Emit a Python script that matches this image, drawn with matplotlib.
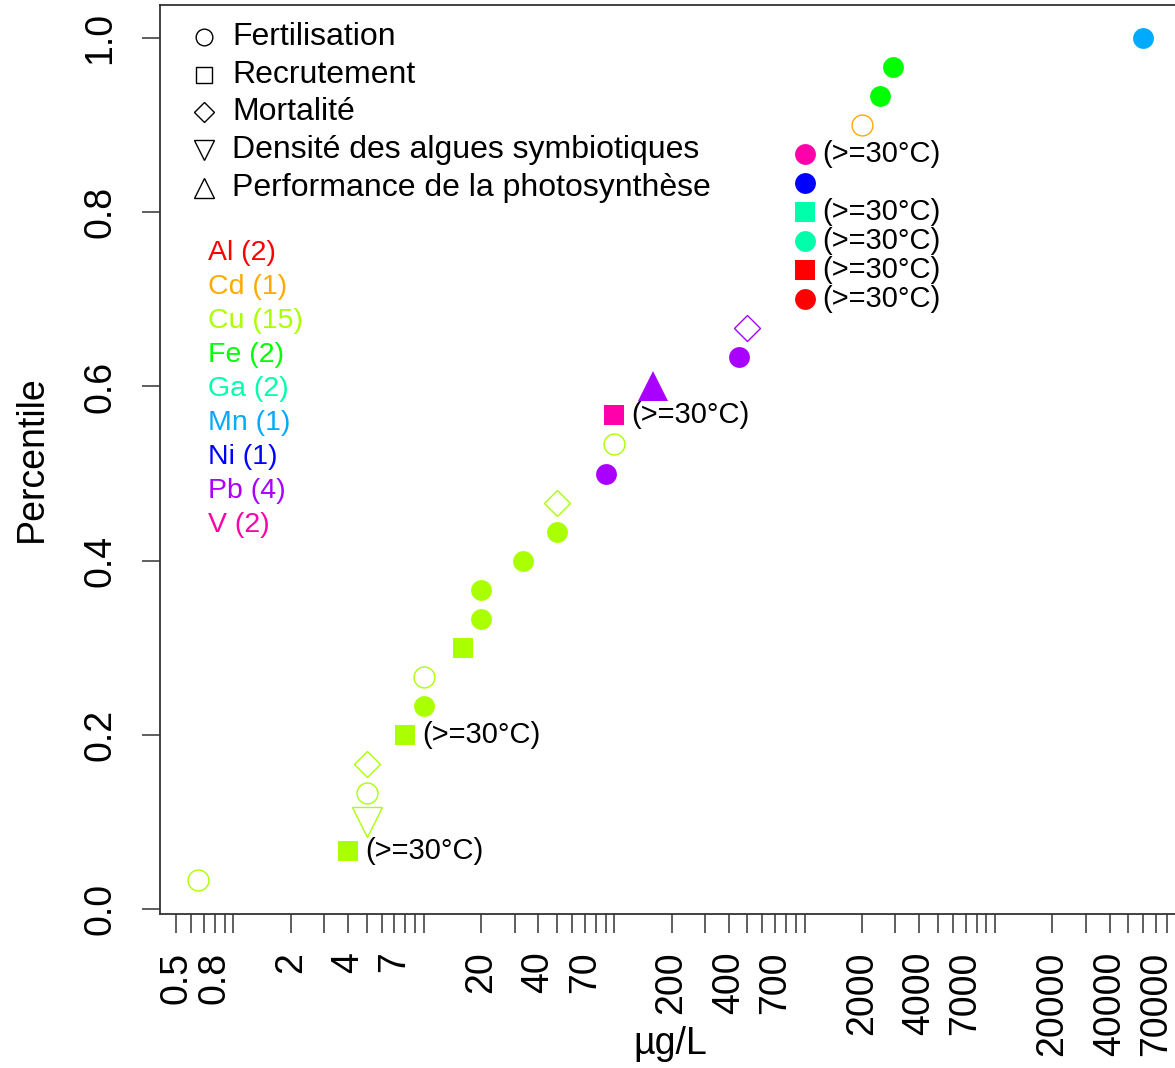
import numpy as np
import matplotlib
matplotlib.use('Agg')
import matplotlib.pyplot as plt

plt.rcParams['font.family'] = ['Liberation Sans', 'DejaVu Sans']

# concentrations (µg/L) triées, une entrée par point
conc = [0.65, 4, 5, 5, 5, 8, 10, 10, 16, 20, 20, 33, 50, 50, 90, 100, 100, 160,
        450, 500, 1000, 1000, 1000, 1000, 1000, 1000, 2000, 2500, 2900, 60000]
metal = ['Cu', 'Cu', 'Cu', 'Cu', 'Cu', 'Cu', 'Cu', 'Cu', 'Cu', 'Cu', 'Cu', 'Cu', 'Cu', 'Cu',
         'Pb', 'Cu', 'V', 'Pb', 'Pb', 'Pb', 'Al', 'Al', 'Ga', 'Ga', 'Ni', 'V', 'Cd', 'Fe', 'Fe', 'Mn']
endpoint = ['Fert', 'Recr', 'Dens', 'Fert', 'Mort', 'Recr', 'Fert', 'Fert', 'Recr', 'Fert',
            'Fert', 'Fert', 'Fert', 'Mort', 'Fert', 'Fert', 'Recr', 'Perf', 'Fert', 'Mort',
            'Fert', 'Recr', 'Fert', 'Recr', 'Fert', 'Fert', 'Fert', 'Fert', 'Fert', 'Fert']
filled = [0, 1, 0, 0, 0, 1, 1, 0, 1, 1, 1, 1, 1, 0, 1, 0, 1, 1, 1, 0,
          1, 1, 1, 1, 1, 1, 0, 1, 1, 1]
warm = [0, 1, 0, 0, 0, 1, 0, 0, 0, 0, 0, 0, 0, 0, 0, 0, 1, 0, 0, 0,
        1, 1, 1, 1, 0, 1, 0, 0, 0, 0]

metals = ['Al', 'Cd', 'Cu', 'Fe', 'Ga', 'Mn', 'Ni', 'Pb', 'V']
metal_colors = ['#FF0000', '#FFAA00', '#AAFF00', '#00FF00', '#00FFAA',
                '#00AAFF', '#0000FF', '#AA00FF', '#FF00AA']

endpoint_keys = ['Fert', 'Recr', 'Mort', 'Dens', 'Perf']
endpoint_names = ['Fertilisation', 'Recrutement', 'Mortalité',
                  'Densité des algues symbiotiques', 'Performance de la photosynthèse']
endpoint_markers = ['o', 's', 'D', 'v', '^']

x_ticks = [0.5, 0.6, 0.7, 0.8, 0.9, 1, 2, 3, 4, 5, 6, 7, 8, 9, 10,
           20, 30, 40, 50, 60, 70, 80, 90, 100, 200, 300, 400, 500, 600, 700, 800, 900, 1000,
           2000, 3000, 4000, 5000, 6000, 7000, 8000, 9000, 10000,
           20000, 30000, 40000, 50000, 60000, 70000, 80000, 90000]
x_labeled = [0.5, 0.8, 2, 4, 7, 20, 40, 70, 200, 400, 700,
             2000, 4000, 7000, 20000, 40000, 70000]

marker_size = {'o': 15, 's': 14.4, 'D': 13.7, 'v': 21, '^': 21}
legend_size = {'o': 12, 's': 11, 'D': 10, 'v': 15, '^': 15}

n = len(conc)
percentile = np.arange(1, n + 1) / n
col_of = dict(zip(metals, metal_colors))
mk_of = dict(zip(endpoint_keys, endpoint_markers))

fig = plt.figure(figsize=(11.75, 10.68), dpi=100)
ax = fig.add_axes([160 / 1175, 154.5 / 1068, 1021 / 1175, 909 / 1068])
ax.set_xscale('log')

for i in range(n):
    c = col_of[metal[i]]
    m = mk_of[endpoint[i]]
    ax.plot(conc[i], percentile[i], linestyle='none', marker=m, ms=marker_size[m],
            mfc=c if filled[i] else 'none', mec=c, mew=0 if filled[i] else 1.0,
            clip_on=False)
    if warm[i]:
        ax.annotate('(>=30°C)', (conc[i], percentile[i]), xytext=(12.5, 0),
                    textcoords='offset points', ha='left', va='center', fontsize=21)

# limites façon R (4 % de marge)
lx = np.log10([min(conc), max(conc)])
dx = 0.04 * (lx[1] - lx[0])
ax.set_xlim(10 ** (lx[0] - dx), 10 ** (lx[1] + dx))
dy = 0.04 * (percentile[-1] - percentile[0])
ax.set_ylim(percentile[0] - dy, percentile[-1] + dy)

ax.xaxis.set_minor_locator(matplotlib.ticker.NullLocator())
ax.set_xticks(x_ticks)
ax.set_xticklabels([(f"{t:g}" if t in x_labeled else '') for t in x_ticks])
ax.set_yticks([0, 0.2, 0.4, 0.6, 0.8, 1.0])
ax.set_yticklabels(['0.0', '0.2', '0.4', '0.6', '0.8', '1.0'])

ax.tick_params(axis='x', length=13.5, width=1.1, color='#333333', pad=14,
               labelsize=27, labelrotation=90)
ax.tick_params(axis='y', length=13, width=1.1, color='#333333', pad=17,
               labelsize=27, labelrotation=90)
for lab in ax.get_yticklabels():
    lab.set_va('center')
for sp in ax.spines.values():
    sp.set_linewidth(1.3)
    sp.set_color('#333333')

ax.set_xlabel('µg/L', fontsize=27)
ax.xaxis.set_label_coords(0.5, -0.124)
ax.set_ylabel('Percentile', fontsize=27)
ax.yaxis.set_label_coords(-0.108, 0.5)

# légende des types d'effet
for k, (name, m) in enumerate(zip(endpoint_names, endpoint_markers)):
    yy = 0.9645 - k * 0.04153
    ax.plot(0.0431, yy, transform=ax.transAxes, linestyle='none', marker=m,
            ms=legend_size[m], mfc='none', mec='black', mew=1.0)
    ax.text(0.0705, yy, name, transform=ax.transAxes, ha='left', va='center', fontsize=23)

# légende des métaux
for k, (m, c) in enumerate(zip(metals, metal_colors)):
    ax.text(0.047, 0.7266 - k * 0.0374, f"{m} ({metal.count(m)})", transform=ax.transAxes,
            ha='left', va='center', fontsize=20.5, color=c)

fig.savefig('out.png', dpi=100)
